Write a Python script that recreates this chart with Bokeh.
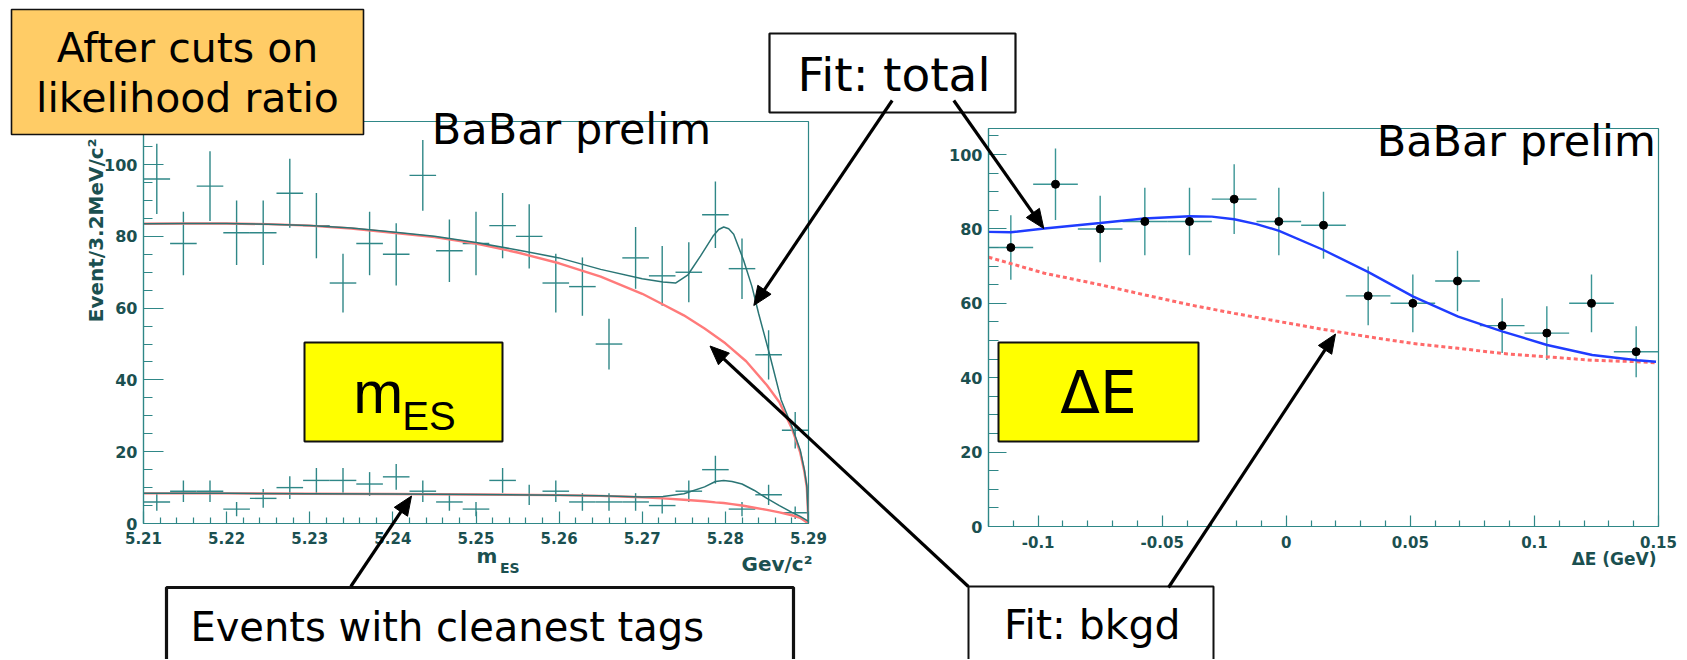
import math
import numpy as np
from bokeh.plotting import figure
from bokeh.models import Range1d, FixedTicker
from bokeh.core.properties import value
from bokeh.layouts import row
from bokeh.embed import file_html
from bokeh.resources import INLINE

# ---------------- data ----------------
# m_ES histogram, 3.2 MeV bins
mes_bin_centers = [5.2116, 5.2148, 5.2180, 5.2212, 5.2244, 5.2276, 5.2308, 5.2340, 5.2372, 5.2404,
                   5.2436, 5.2468, 5.2500, 5.2532, 5.2564, 5.2596, 5.2628, 5.2660, 5.2692, 5.2724,
                   5.2756, 5.2788, 5.2820, 5.2852, 5.2884]
mes_events_all = [96, 78, 94, 81, 81, 92, 83, 67, 78, 75, 97, 76, 78, 83, 80, 67, 66, 50, 74, 69,
                  70, 86, 71, 47, 26]
mes_events_clean = [6, 9, 9, 4, 7, 10, 12, 12, 11, 13, 9, 6, 4, 12, 8, 9, 6, 6, 6, 5,
                    9, 15, 4, 8, 3]
mes_half_bin = 0.0016

# m_ES fits (all events)
mes_total_x = [5.21, 5.215, 5.22, 5.225, 5.23, 5.235, 5.24, 5.245, 5.25, 5.255, 5.26, 5.265, 5.27,
               5.2725, 5.274, 5.2755, 5.277, 5.2785, 5.2792, 5.2798, 5.2804, 5.281, 5.2822, 5.2832,
               5.284, 5.2853, 5.2867, 5.288, 5.289, 5.2895, 5.2898, 5.29]
mes_total_y = [83.5, 83.6, 83.6, 83.4, 83.0, 82.3, 81.2, 80.0, 78.3, 76.2, 74.0, 70.8, 68.2,
               67.3, 67.0, 69.3, 74.5, 80.0, 81.9, 82.6, 82.1, 80.6, 73.3, 66.0,
               58.5, 47.3, 34.5, 27.0, 20.5, 15.0, 10.5, 0.0]
mes_bkg_x = [5.21, 5.215, 5.22, 5.225, 5.23, 5.235, 5.24, 5.245, 5.25, 5.255, 5.26, 5.265, 5.27,
             5.2725, 5.275, 5.2775, 5.28, 5.2825, 5.285, 5.2865, 5.288, 5.289, 5.2895, 5.2898, 5.29]
mes_bkg_y = [83.5, 83.6, 83.6, 83.4, 83.0, 82.2, 81.0, 79.8, 78.0, 75.5, 72.5, 68.8, 64.0,
             61.0, 58.0, 54.3, 50.2, 45.2, 38.5, 33.8, 26.5, 19.8, 14.5, 10.0, 0.0]

# m_ES fits (cleanest tags)
clean_fit_x = [5.21, 5.22, 5.23, 5.24, 5.25, 5.26, 5.265, 5.27, 5.2725, 5.275, 5.2775, 5.2788,
               5.2798, 5.2808, 5.282, 5.2835, 5.285, 5.2865, 5.288, 5.289, 5.29]
clean_total_y = [8.4, 8.4, 8.3, 8.2, 8.1, 7.9, 7.7, 7.4, 7.5, 8.3, 10.2, 11.7,
                 12.0, 11.7, 11.0, 9.2, 7.0, 5.0, 3.1, 2.0, 0.6]
clean_bkg_y = [8.4, 8.4, 8.3, 8.2, 8.1, 7.9, 7.7, 7.3, 7.0, 6.6, 6.2, 5.9,
               5.7, 5.4, 5.0, 4.4, 3.8, 3.1, 2.3, 1.6, 0.0]

# Delta E histogram
de_bin_centers = [-0.111, -0.093, -0.075, -0.057, -0.039, -0.021, -0.003, 0.015, 0.033, 0.051,
                  0.069, 0.087, 0.105, 0.123, 0.141]
de_events = [75, 92, 80, 82, 82, 88, 82, 81, 62, 60, 66, 54, 52, 60, 47]
de_half_bin = 0.009

de_total_x = [-0.12, -0.111, -0.0975, -0.075, -0.0573, -0.0389, -0.03, -0.021, -0.012, -0.0029,
              0.0148, 0.0331, 0.0512, 0.0693, 0.0873, 0.1051, 0.1233, 0.1414, 0.149]
de_total_y = [79.2, 79.1, 80.1, 81.6, 82.8, 83.4, 83.3, 82.6, 81.3, 79.5,
              74.4, 68.4, 61.8, 56.4, 52.4, 48.8, 46.1, 44.7, 44.3]
de_bkg_x = [-0.12, -0.0975, -0.075, -0.0573, -0.0389, -0.021, -0.0029, 0.0148, 0.0331, 0.0512,
            0.0693, 0.0873, 0.1051, 0.1233, 0.1414, 0.149]
de_bkg_y = [72.4, 68.1, 65.0, 62.3, 59.6, 57.3, 55.1, 53.0, 51.0, 49.2,
            47.9, 46.5, 45.6, 44.7, 44.3, 44.0]

# tick labels
mes_ticks = [5.21, 5.22, 5.23, 5.24, 5.25, 5.26, 5.27, 5.28, 5.29]
mes_tick_labels = ["5.21", "5.22", "5.23", "5.24", "5.25", "5.26", "5.27", "5.28", "5.29"]
de_ticks = [-0.1, -0.05, 0.0, 0.05, 0.1, 0.15]
de_tick_labels = ["-0.1", "-0.05", "0", "0.05", "0.1", "0.15"]
count_ticks = [0, 20, 40, 60, 80, 100]
count_tick_labels = ["0", "20", "40", "60", "80", "100"]

# ---------------- styles / geometry ----------------
TEAL = "#2f8787"
TEAL_DARK = "#1b5050"
RED_FIT = "#ff7a7a"
BLUE_FIT = "#1f3cff"
SLIDE_FONT = "DejaVu Sans"
MID = 0.346  # em offset between text-box middle and baseline

PAGE_W = 1686
PAGE_H = 659
SPLIT = 875  # page x where the two canvases meet

L_FRAME = dict(left=143, right=808, top=121, bottom=523)
R_FRAME = dict(left=988, right=1658, top=128, bottom=526)
PK = dict(x_range_name="px", y_range_name="py", level="overlay")


def make_fig(x0, x1, frame, xr, yr):
    fig = figure(width=x1 - x0, height=PAGE_H, x_range=xr, y_range=yr,
                 output_backend="svg", toolbar_location=None,
                 min_border_left=frame["left"] - x0, min_border_right=x1 - frame["right"],
                 min_border_top=frame["top"], min_border_bottom=PAGE_H - frame["bottom"])
    try:
        fig.frame_align = False
    except Exception:
        pass
    fig.grid.visible = False
    fig.background_fill_color = "white"
    fig.border_fill_color = "white"
    fig.outline_line_color = TEAL
    fig.outline_line_width = 1.2
    fig.extra_x_ranges = {"px": Range1d(frame["left"], frame["right"])}
    fig.extra_y_ranges = {"py": Range1d(frame["bottom"], frame["top"])}
    return fig


def style_axis(ax, ticks, minor, labels, tick_in, minor_in, standoff, size):
    ax.ticker = FixedTicker(ticks=ticks, minor_ticks=minor)
    ax.major_label_overrides = {t: s for t, s in zip(ticks, labels)}
    ax.axis_line_color = TEAL
    ax.axis_line_width = 1.2
    ax.major_tick_line_color = TEAL
    ax.minor_tick_line_color = TEAL
    ax.major_tick_line_width = 1.2
    ax.minor_tick_line_width = 1.2
    ax.major_tick_in = tick_in
    ax.major_tick_out = 0
    ax.minor_tick_in = minor_in
    ax.minor_tick_out = 0
    ax.major_label_standoff = standoff
    ax.major_label_text_font = SLIDE_FONT
    ax.major_label_text_font_style = "bold"
    ax.major_label_text_font_size = size
    ax.major_label_text_color = TEAL_DARK


# overlay boxes (page pixels): left, right, top, bottom, fill, width
BOXES = [
    (11, 363, 9, 134, "#ffcc66", 1.6),          # After cuts
    (769, 1015, 33, 112, "white", 2.2),         # Fit: total
    (304, 502, 342, 441, "#ffff00", 2.0),       # m_ES
    (998, 1198, 342, 441, "#ffff00", 2.0),      # Delta E
    (166, 793, 587, 680, "white", 3.2),         # Events with cleanest tags
    (968, 1213, 586, 680, "white", 2.0),        # Fit: bkgd
]
ARROWS = [
    (891.7, 100, 753.3, 305),
    (953.3, 100, 1043.3, 228),
    (967.8, 586, 709.5, 345.5),
    (1168, 587, 1335, 333.5),
    (350.3, 586, 411, 495.5),
]


def add_overlays(fig):
    for l, r, t, b, fill, lw in BOXES:
        fig.quad(left=[l], right=[r], top=[t], bottom=[b], fill_color=fill,
                 line_color="#111111", line_width=lw, **PK)
    for x0, y0, x1, y1 in ARROWS:
        dx, dy = x1 - x0, y1 - y0
        n = math.hypot(dx, dy)
        ux, uy = dx / n, dy / n
        hl, hw = 19.0, 8.0
        bx, by = x1 - ux * hl, y1 - uy * hl
        fig.segment(x0=[x0], y0=[y0], x1=[bx + ux * 2], y1=[by + uy * 2],
                    line_color="black", line_width=3.2, **PK)
        fig.patch(x=[x1, bx - uy * hw, bx + uy * hw], y=[y1, by + ux * hw, by - ux * hw],
                  fill_color="black", line_color="black", line_width=1, **PK)


def add_text(fig, x, y_base, text, size, align="left", font=SLIDE_FONT, style="normal",
             color="black", angle=0.0):
    if angle == 0.0:
        xx, yy = x, y_base - MID * size
    else:  # rotated upwards: glyphs extend to the left of the baseline
        xx, yy = x - MID * size, y_base
    fig.text(x=[xx], y=[yy], text=[text], text_font=value(font), text_font_size=value(f"{size}px"),
             text_font_style=style, text_color=color, text_align=align, text_baseline="middle",
             angle=angle, **PK)


# ---------------- left plot: m_ES ----------------
left = make_fig(0, SPLIT, L_FRAME, Range1d(5.21, 5.29), Range1d(0, 112))
mes_minor_x = [round(5.21 + 0.002 * k, 4) for k in range(41) if k % 5]
count_minor = [5 * k for k in range(23) if k % 4]
style_axis(left.xaxis[0], mes_ticks, mes_minor_x, mes_tick_labels, 12, 6, 8, "15px")
style_axis(left.yaxis[0], count_ticks, count_minor, count_tick_labels, 20, 9, 6, "16px")

c = np.array(mes_bin_centers)
for vals in (mes_events_all, mes_events_clean):
    v = np.array(vals, dtype=float)
    e = np.sqrt(v)
    left.segment(x0=c - mes_half_bin, x1=c + mes_half_bin, y0=v, y1=v, line_color=TEAL, line_width=1.4)
    left.segment(x0=c, x1=c, y0=v - e, y1=v + e, line_color=TEAL, line_width=1.4)

left.line(mes_bkg_x, mes_bkg_y, line_color=RED_FIT, line_width=2.4)
left.line(clean_fit_x, clean_bkg_y, line_color=RED_FIT, line_width=2.4)
left.line(mes_total_x, mes_total_y, line_color="#2a7575", line_width=1.5)
left.line(clean_fit_x, clean_total_y, line_color="#2a7575", line_width=1.5)

add_overlays(left)
add_text(left, 187, 61.7, "After cuts on", 41, align="center")
add_text(left, 187, 111.7, "likelihood ratio", 41, align="center")
add_text(left, 868, 90, "Fit:", 47, align="right")
add_text(left, 571, 143.3, "BaBar prelim", 43, align="center")
add_text(left, 352.7, 413, "m", 60, font="Liberation Sans")
add_text(left, 401.7, 429.3, "ES", 40, font="Liberation Sans")
add_text(left, 189.9, 640, "Events with cleanest tags", 40)
add_text(left, 102, 321.7, "Event/3.2MeV/c²", 20, style="bold", color=TEAL_DARK, angle=math.pi / 2)
add_text(left, 476, 562.7, "m", 20, style="bold", color=TEAL_DARK)
add_text(left, 499.5, 572.5, "ES", 14, style="bold", color=TEAL_DARK)
add_text(left, 741, 570, "Gev/c²", 20, style="bold", color=TEAL_DARK)

# ---------------- right plot: Delta E ----------------
right = make_fig(SPLIT, PAGE_W, R_FRAME, Range1d(-0.12, 0.15), Range1d(0, 107))
de_minor_x = [round(-0.12 + 0.01 * k, 3) for k in range(28) if round((-0.12 + 0.01 * k) * 100) % 5]
de_minor_y = [5 * k for k in range(22) if k % 4]
style_axis(right.xaxis[0], de_ticks, de_minor_x, de_tick_labels, 11, 6, 9, "15px")
style_axis(right.yaxis[0], count_ticks, de_minor_y, count_tick_labels, 18, 10, 6, "16px")

dc = np.array(de_bin_centers)
dv = np.array(de_events, dtype=float)
de_err = np.sqrt(dv)
right.segment(x0=dc - de_half_bin, x1=dc + de_half_bin, y0=dv, y1=dv, line_color="#3a9595", line_width=1.4)
right.segment(x0=dc, x1=dc, y0=dv - de_err, y1=dv + de_err, line_color="#3a9595", line_width=1.4)
right.line(de_bkg_x, de_bkg_y, line_color="#ff6a6a", line_width=3, line_dash="4 3")
right.line(de_total_x, de_total_y, line_color=BLUE_FIT, line_width=2.4)
right.scatter(dc, dv, size=8, color="black")

add_overlays(right)
add_text(right, 882.5, 90, "total", 47, align="left")
add_text(right, 1515.8, 155, "BaBar prelim", 43, align="center")
add_text(right, 1098, 412.7, "ΔE", 58, align="center")
add_text(right, 1003.4, 638.3, "Fit: bkgd", 41)
add_text(right, 1656, 564, "ΔE (GeV)", 17, align="right", style="bold", color=TEAL_DARK)

layout = row(left, right)
open("out.html", "w").write(file_html(layout, INLINE))
